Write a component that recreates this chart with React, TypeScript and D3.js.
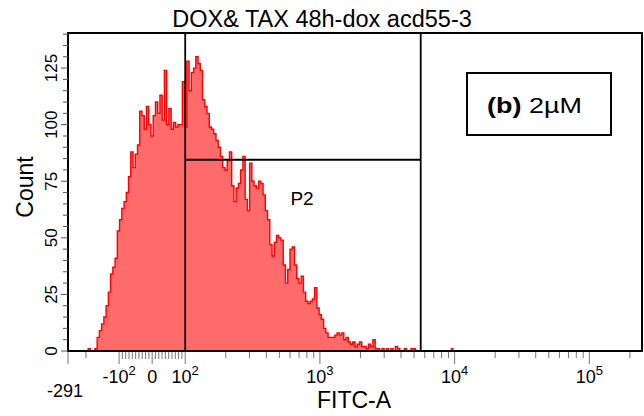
import React from "react";
import * as d3 from "d3";

// ---------- data ----------
const title = "DOX& TAX 48h-dox acd55-3";
const xLabel = "FITC-A";
const yLabel = "Count";
const gateLabel = "P2";
const annotationBold = "(b)";
const annotationText = "2µM";

// histogram counts per display channel (256 channels span the x axis)
const channelCount = 256;
const counts = [
  0, 0, 0, 0, 0, 0, 0, 0, 0, 1,
  0, 0, 1, 6, 9, 12, 15, 20, 26, 34,
  37, 41, 53, 58, 63, 66, 70, 77, 88, 81,
  87, 91, 106, 104, 98, 108, 100, 95, 104, 110,
  105, 113, 102, 124, 100, 107, 98, 101, 99, 100,
  100, 119, 99, 128, 115, 123, 125, 130, 127, 124,
  111, 108, 105, 99, 98, 96, 93, 90, 86, 81,
  80, 84, 88, 73, 66, 72, 74, 80, 86, 67,
  62, 83, 75, 73, 72, 75, 74, 69, 62, 58,
  47, 42, 48, 51, 50, 49, 38, 30, 36, 45,
  46, 38, 32, 30, 33, 26, 22, 21, 22, 23,
  28, 19, 16, 14, 10, 8, 6, 6, 6, 7,
  8, 7, 8, 5, 6, 4, 3, 4, 2, 3,
  4, 2, 2, 1, 3, 2, 5, 1, 1, 0,
  1, 0, 1, 0, 1, 0, 2, 1, 0, 0,
  1, 0, 0, 1, 1, 0, 0, 0, 0, 0,
  0, 0, 0, 0, 0, 0, 0, 0, 0, 0,
  0, 1,
];

const yMax = 140.5;
const yMajorTicks = [0, 25, 50, 75, 100, 125];
const yMinorTicks = [5, 10, 15, 20, 30, 35, 40, 45, 55, 60, 65, 70, 80, 85, 90, 95, 105, 110, 115, 120, 130, 135, 140];

const xMin = -291;
const xMax = 246000;
const xMajorTicks = [
  { v: -291, base: "-291", exp: "", low: true },
  { v: -100, base: "-10", exp: "2", low: false },
  { v: 0, base: "0", exp: "", low: false },
  { v: 100, base: "10", exp: "2", low: false },
  { v: 1000, base: "10", exp: "3", low: false },
  { v: 10000, base: "10", exp: "4", low: false },
  { v: 100000, base: "10", exp: "5", low: false },
];
const xLinearMinor = [-90, -80, -70, -60, -50, -40, -30, -20, -10, 10, 20, 30, 40, 50, 60, 70, 80, 90];
const xLogMinor = [
  -200,
  200, 300, 400, 500, 600, 700, 800, 900,
  2000, 3000, 4000, 5000, 6000, 7000, 8000, 9000,
  20000, 30000, 40000, 50000, 60000, 70000, 80000, 90000,
  200000,
];

const gateLow = 100;
const gateHigh = 5600;
const gateCount = 84.5;

// ---------- biexponential-like display transform ----------
const LIN = 0.33; // display units per data unit in the linear zone
const POS_DEC = 134.5; // display units per decade (positive)
const NEG_DEC = 110; // display units per decade (negative)
function tx(v: number): number {
  if (v >= 100) return 100 * LIN + POS_DEC * Math.log10(v / 100);
  if (v >= -100) return v * LIN;
  return -100 * LIN - NEG_DEC * Math.log10(-v / 100);
}

const W = 644;
const H = 416;
const left = 68;
const right = 642;
const top = 33;
const bottom = 351;

export default function App() {
  const xDisp = d3.scaleLinear().domain([tx(xMin), tx(xMax)]).range([left, right]);
  const x = (v: number) => xDisp(tx(v));
  const ch = d3.scaleLinear().domain([0, channelCount]).range([left, right]);
  const y = d3.scaleLinear().domain([0, yMax]).range([bottom, top]);

  const pts = counts.map((c, i) => ({ i, c }));
  pts.push({ i: counts.length, c: counts[counts.length - 1] });

  const area = d3
    .area<{ i: number; c: number }>()
    .x((d) => ch(d.i))
    .y0(y(0))
    .y1((d) => y(d.c))
    .curve(d3.curveStepAfter);
  const line = d3
    .line<{ i: number; c: number }>()
    .x((d) => ch(d.i))
    .y((d) => y(d.c))
    .curve(d3.curveStepAfter);

  const font = "'Liberation Sans', Arial, sans-serif";
  const gx1 = x(gateLow);
  const gx2 = x(gateHigh);
  const gy = y(gateCount);

  return (
    <svg
      width={W}
      height={H}
      style={{ position: "absolute", left: 0, top: 0, background: "#fff" }}
      fontFamily={font}
    >
      <rect x={0} y={0} width={W} height={H} fill="#fff" />
      {/* title */}
      <text x={322} y={27} fontSize={23.5} textAnchor="middle" fill="#000">
        {title}
      </text>

      {/* histogram */}
      <path d={area(pts) || ""} fill="#ff6b6b" stroke="none" />
      <path d={line(pts) || ""} fill="none" stroke="#ff0000" strokeWidth={1.4} />

      {/* gates */}
      <line x1={gx1} x2={gx1} y1={top} y2={bottom} stroke="#000" strokeWidth={1.8} />
      <line x1={gx2} x2={gx2} y1={top} y2={bottom} stroke="#000" strokeWidth={1.8} />
      <line x1={gx1} x2={gx2} y1={gy} y2={gy} stroke="#000" strokeWidth={1.8} />
      <text x={302} y={205} fontSize={19} textAnchor="middle" fill="#000">
        {gateLabel}
      </text>

      {/* frame */}
      <rect x={left} y={top} width={right - left} height={bottom - top} fill="none" stroke="#000" strokeWidth={2} />

      {/* y ticks */}
      {yMajorTicks.map((t) => (
        <g key={"ym" + t}>
          <line x1={61} x2={left} y1={y(t)} y2={y(t)} stroke="#555" strokeWidth={1} />
          <text
            transform={`translate(57,${y(t)}) rotate(-90)`}
            fontSize={17}
            textAnchor="middle"
            fill="#000"
          >
            {t}
          </text>
        </g>
      ))}
      {yMinorTicks.map((t) => (
        <line key={"yn" + t} x1={63} x2={left} y1={y(t)} y2={y(t)} stroke="#555" strokeWidth={1} />
      ))}
      <text transform={`translate(33,187) rotate(-90)`} fontSize={23} textAnchor="middle" fill="#000">
        {yLabel}
      </text>

      {/* x ticks */}
      {xLinearMinor.map((v) => (
        <line key={"xl" + v} x1={x(v)} x2={x(v)} y1={bottom + 1} y2={bottom + 8} stroke="#777" strokeWidth={1} />
      ))}
      {xLogMinor.map((v) => (
        <line key={"xg" + v} x1={x(v)} x2={x(v)} y1={bottom + 1} y2={bottom + 7} stroke="#777" strokeWidth={1} />
      ))}
      {xMajorTicks.map((t) => (
        <g key={"xm" + t.v}>
          <line x1={x(t.v)} x2={x(t.v)} y1={bottom + 1} y2={bottom + 13} stroke="#777" strokeWidth={1} />
          <text x={x(t.v) - (t.low ? 3 : 0)} y={t.low ? 397 : 383} fontSize={18} textAnchor="middle" fill="#000">
            {t.base}
            {t.exp ? (
              <tspan fontSize={13} dy={-8}>
                {t.exp}
              </tspan>
            ) : null}
          </text>
        </g>
      ))}
      <text x={354} y={408} fontSize={23} textAnchor="middle" fill="#000">
        {xLabel}
      </text>

      {/* annotation */}
      <rect x={467} y={73} width={144} height={62} fill="#fff" stroke="#000" strokeWidth={2} />
      <text x={487} y={113} fontSize={22} fill="#000" textLength={95} lengthAdjust="spacingAndGlyphs">
        <tspan fontWeight="bold">{annotationBold}</tspan>
        <tspan> {annotationText}</tspan>
      </text>
    </svg>
  );
}
